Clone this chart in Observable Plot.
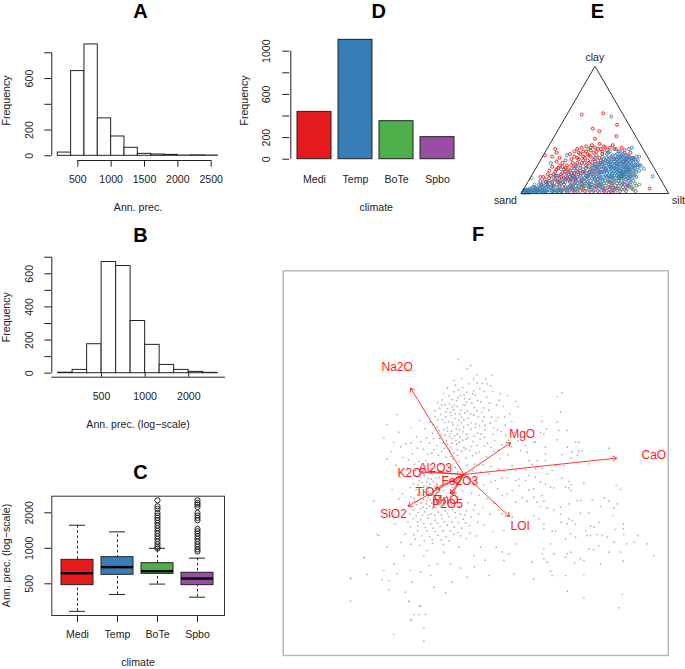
<!DOCTYPE html>
<html><head><meta charset="utf-8">
<style>html,body{margin:0;padding:0;background:#fff}#c{position:relative;width:685px;height:669px;overflow:hidden}</style>
<script src="https://cdn.jsdelivr.net/npm/d3@7"></script>
<script src="https://cdn.jsdelivr.net/npm/@observablehq/plot@0.6"></script>
</head><body><div id="c"></div>
<script>
const climates = ["Medi","Temp","BoTe","Spbo"];
const palette = ["#E41A1C","#377EB8","#4DAF4A","#984EA3"];

// A
const precEdges = [200,400,600,800,1000,1200,1400,1600,1800,2000,2200,2400,2600];
const precCounts = [25,658,865,291,150,62,15,10,7,2,4,2];
// B
const logEdges = [251,316,398,501,631,794,1000,1259,1585,1995,2512,3162];
const logCounts = [3,20,175,671,647,315,171,50,20,8,2];
const logTicks = [500,1000,2000];
// C
const boxLow = [292,406,497,385];
const boxQ1 = [487,596,607,487];
const boxMedian = [615,692,640,554];
const boxQ3 = [798,841,748,620];
const boxHigh = [1569,1378,1000,825];
const outBoTe = [2553,2272,2157,1996,1894,1810,1729,1642,1558,1480,1404,1333,1266,1202,1141,1083,1028,996];
const outSpbo = [2553,2423,2347,2242,1996,1894,1810,1729,1460,1395,1333,1266,1202,1141,1083,1028,977,939];
// D
const climateCounts = [438,1105,352,204];
// E : [position along base, clay %]
const triangle = [[0,0],[100,0],[50,100],[0,0]];
const medi = [[41,62],[55.5,63],[48.5,51],[53,49],[65,54],[64.5,45],[50,43],[23,35],[16,30],[21,29],[24,32],[87,4],
[24,25],[26,28],[28,24],[30,26],[33,31],[34,27],[36,33],[38,35],[39,32],[41,36],[42,33],[44,37],[45,31],[47,34],[48,38],[50,36],[51,33],[53,39],[54,35],[56,37],[58,34],[60,36],[62,38],[64,35],[66,33],[68,36],[70,34],[72,30],[74,32],[76,28],
[19,18],[21,21],[23,17],[25,20],[27,15],[29,19],[31,22],[33,18],[35,24],[37,21],[39,27],[41,24],[43,28],[45,26],[47,29],[49,27],[51,30],[53,28],[55,31],
[13,10],[15,13],[17,9],[19,12],[21,8],[23,11],[25,9],[27,13],[29,7],[31,12],[33,10],[35,14],[37,9],[39,15],[41,11],[43,17],[45,13],[47,19],[49,15],[51,21],[53,17],[55,23],[57,19],[59,25],[61,21],[63,27],[65,23],[67,29],[69,25],[71,27],
[38,4],[42,3],[50,6],[56,2],[60,9],[62,1],[44,22],[40,18],[36,16],[32,15],[30,20],[28,9],[34,6],[46,8],[52,11],[58,13],
[36,29],[38,28],[40,31],[42,29],[44,33],[46,30],[47,36],[49,32],[52,35],[55,33],[57,36],[59,32],[34,22],[36,20],[38,24],[40,22],[42,26],[44,20],[46,24],[48,22],[50,25],[52,23],[54,26],[30,17],[32,19],[34,16],[36,13],[38,17],[40,14],[42,17],[44,14],[46,16],[48,18],[24,14],[26,12],[28,16],[30,11],[22,15],[20,14],[18,15],[16,11],[14,7],[18,7],[22,6],[26,6],[30,5],[33,13],[37,12],[41,8],[35,11],[24,19],[26,22],[28,21]];
const temp = [[61,60.5],[89,13.5],[83,19.5],[76,18],[79,20.6],[80,29],[78,29],[75,36],[73,35],[31,30],[20,24],
[1,1],[2,1],[3,2],[4,1],[2,3],[5,2],[6,1],[4,3],[7,3],[8,1],[6,4],[9,2],[10,4],[3,0.5],[5,0.5],[8,5],[11,1],[12,3],[13,6],[14,2],[16,4],[15,8],[18,6],[17,2],[20,5],[22,3],[24,7],[12,7],[19,10],[22,12],[26,5],[28,11],[25,14],[30,9],[32,5],[34,12],[36,8],[31,16],[27,19],[35,18],[38,13],[37,22],[40,9],[42,14],[40,20],[43,24],[44,11],[46,17],[45,21],[47,25],[48,12],[49,18],[50,23],[50,28],[51,9],[52,15],[52,26],[53,20],[54,12],[54,24],[55,17],[55,29],[56,21],[56,8],[57,26],[57,14],[58,18],[58,31],[59,23],[59,11],[60,28],[60,16],[60,33],[61,20],[61,25],[62,13],[62,30],[62,8],[63,22],[63,17],[63,35],[64,27],[64,12],[65,19],[65,31],[65,24],[66,15],[66,28],[66,10],[67,21],[67,33],[67,26],[68,17],[68,13],[68,30],[69,23],[69,19],[69,28],[70,15],[70,32],[70,25],[71,21],[71,11],[71,30],[72,18],[72,26],[72,23],[73,14],[73,20],[73,29],[74,25],[74,17],[74,22],[75,12],[75,28],[75,20],[76,24],[76,15],[77,22],[77,27],[77,18],[78,25],[78,13],[79,23],[80,18],[81,22],[74,9],[72,7],[69,8],[76,10],[78,6],
[47,10],[53,7],[49,22],[51,16],[54,19],[56,27],[58,22],[57,10],[60,13],[61,17],[62,24],[63,11],[64,20],[65,14],[66,22],[67,16],[68,24],[69,14],[70,19],[71,24],[72,15],[44,16],[42,19],[39,11],[36,15],[33,9],[30,13],[26,9],[23,14],[21,6],[18,9],[15,5],[11,4],[9,5],[7,2],[5,3],
[1.5,0.5],[2.5,2],[3.5,1],[4.5,2],[5.5,1],[6.5,2],[7.5,1],[8.5,3],[9.5,1],[10.5,2],[12,1],[13,2],[15,1],[16,2],[18,1],[19,3],[21,2],[23,1],[25,3],[27,2],[29,4],[31,3],[33,6],[35,4],[37,6],[39,5],[41,7],[43,6],[45,9],[47,7],[49,9],[50,11],[52,9],[53,12],[55,10],[54,15],[56,13],[56,17],[57,20],[58,16],[59,14],[59,19],[60,21],[60,11],[61,13],[61,22],[62,16],[62,19],[62,27],[63,14],[63,20],[63,25],[64,16],[64,23],[64,30],[65,17],[65,21],[65,27],[66,13],[66,18],[66,25],[67,12],[67,18],[67,23],[67,29],[68,15],[68,20],[68,27],[69,12],[69,17],[69,21],[69,25],[69,31],[70,13],[70,17],[70,22],[70,28],[71,15],[71,19],[71,26],[72,12],[72,20],[72,28],[73,17],[73,23],[73,26],[74,13],[74,19],[74,28],[75,15],[75,23],[75,26],[76,21],[76,27],[77,14],[77,20],[78,17],[78,22],[79,26],[80,22],[45,14],[46,12],[47,15],[48,20],[48,15],[49,13],[50,17],[50,20],[51,19],[51,13],[52,18],[52,21],[53,14],[53,23],[54,17],[55,21],[55,25],[56,24],[57,18],[58,25],[58,28],[59,27],[60,24],[61,29],[38,8],[37,11],[35,7],[32,11],[29,12],[27,8],[24,10],[21,9],[17,7],[14,5],[41,10],[43,12],[44,8],[46,6],[48,5],[51,5],[54,5],[40,16],[42,11],[38,18],[36,11],[34,14]];
const bote = [[46,35],[7,12],[3,3],[9,7],[13,4],[18,3],[23,5],[28,3],[33,4],[39,6],[44,4],[48,7],[53,4],[57,6],[60,3],[62,10],[66,6],[68,11],[71,5],[73,12],[75,5],[66,18],[70,22],[61,14],[55,11],[72,20],[58,8],[64,6],[80,7],[76,3],[49,2],[36,2],[26,1],[16,1],[68,3],[61,6],[74,14],[67,13],[50,12],[43,8],
[11,3],[15,2],[20,4],[25,2],[30,5],[35,5],[37,3],[41,4],[46,3],[51,6],[55,3],[59,5],[62,4],[65,4],[67,8],[70,7],[72,4],[74,7],[77,8],[69,15],[71,17],[73,18],[63,9],[59,9],[54,8],[47,5],[42,6],[38,2],[31,2],[22,2]];
const spbo = [[77.5,2],[73,6],[13,13],[10,3],[17,5],[21,2],[26,3],[31,1],[35,3],[40,2],[45,1],[46,5],[50,3],[53,1],[55,5],[58,2],[60,5],[63,3],[65,8],[67,2],[69,5],[71,2],[73,10],[66,13],[68,16],[72,18],[64,1],[59,1],[48,1],[41,5],[34,1],[24,2],[62,5],[56,3],[70,9],[75,4],
[28,2],[33,3],[37,1],[43,2],[47,3],[52,2],[54,7],[57,4],[61,2],[64,4],[66,4],[68,7],[70,3],[72,6],[66,10],[61,8],[52,6]];
// F : biplot arrows and site scores
const loadNames = ["Na2O","MgO","CaO","LOI","SiO2","K2O","Al2O3","TiO2","Fe2O3","MnO","P2O5"];
const loadU = [-16,14,45.8,13.7,-16.7,-12.8,-10.5,-8.5,-3,-4,-3.5];
const loadV = [25.9,9.5,4.9,-12.6,-9.5,0.7,0.9,-4.3,-2.5,-5.8,-6];
const labelU = [-20,17.5,57,16.9,-21.1,-16.3,-8.5,-10.7,-1.2,-5.5,-4.9];
const labelV = [32.2,12.1,5.9,-15.6,-12,0.5,2,-5.3,-2,-7.6,-8.9];
const scores = [
[-34,-38],[-34,-31],[-30,-25],[-29,-30],[-27,-8],[-24,11],[-23,15],[-20,18],[-26,-18],[-21,-48],[-12,-50],[-12,-46],[-13,-39.5],[-16,-43.5],[-15,-42],[-11.5,-42],[-16.5,-38],[-13.5,-42],
[29.5,24.5],[28,23.4],[29,18.7],[28,15.7],[23.5,16],[31,13.2],[28.5,13.2],[34.5,9.7],[33.5,9.7],[28,10.4],[24,12.2],[23,12.5],[24.8,13.7],[21.5,9.7],[21,9.7],[18.5,8.7],[17,7.2],[19,6.7],[24.5,8.2],[24.5,6.2],[31,8.2],[32.5,6.7],[34.5,7],[35.5,7.2],[29.5,6],[32.2,5],[34,5.7],[43.5,7.9],[37.5,3.2],[30,2.7],[27.5,2.7],[24.5,4.2],[22,4.2],[19.5,4.2],[20.5,3],
[23.5,1.7],[21.5,1.7],[18.5,1.4],[15.5,1.2],[14.5,2.7],[26.5,1.2],[25,.2],[29.5,-1.1],[31.5,-2.1],[32.2,-3],[30.5,-3.8],[31.5,-4],[32.2,-4.8],[26,-3.8],[27,-4],[24.5,-2.8],[23,-2.3],[21.5,-.8],[19.5,-.3],[18.5,-1.8],[16.5,-1.3],[15.5,-1.8],[13,-1],[11.5,-1.1],[16.5,-3.3],[14.5,-4.8],[21,-4.3],[19.5,-4.6],[23.5,-6.3],[24,-8],[17.5,-7],[19,-8],[21,-6.8],[22,-8.3],[15.5,-8.3],[13,-5.8],[11.5,-6.3],[36,-2.6],[45.7,-3.3],[47,-4.5],[35,-7.8],[34,-7.8],[38.5,-7.6],[42.2,-7],[43.5,-8],[46,-8.8],[41,-9.6],[45,-10],[35,-11.6],[37.5,-11.5],[44.8,-12.3],[25,-10],[27,-10.6],[29,-9.8],[29,-11.8],[23,-9.6],[21,-12.3],[22.5,-13.3],[31.5,-8.8],[31.5,-13.3],[32.5,-13.8],[31,-14.8],[33.5,-15],[38,-15.5],[40.5,-14.3],[39,-15.8],[29.2,-14.3],[24,-16.3],[26.5,-17],[27.5,-17],[24,-14.8],[14.5,-12.8],[11.5,-11.8],[12,-16.8],[15.5,-20.8],[32,-17.8],[30.5,-19.3],[33.5,-18.8],[36.5,-16.8],[37,-18.3],[40,-18],[41.5,-18.3],[38,-18.3],[45.5,-16.5],[47.8,-14.8],[47.8,-16.3],[48,-18],[52.2,-18.3],[51.2,-20.3],[48.8,-20.8],[55,-20.8],[57,-24.3],[45,-20.3],[43,-18.8],[40.5,-21.3],[37.5,-22.3],[39,-22.5],[43.5,-23.3],[47,-23.3],[47.8,-26],[24,-22.3],[23.5,-23.8],[26,-20.8],[27,-23.8],[30.5,-24.8],[32,-23.3],[31,-23.8],[35,-25.3],[36,-25.8],[33.2,-26.5],[41,-26.8],[24,-25.3],[25,-26.3],[20.5,-26.3],[13.5,-23.8],[11.5,-23.3],[12,-25.8],[26,-29],[26.5,-30.3],[15,-29.8],[21,-31.3],[36,-30],[30.5,-30.3],[47.5,-36],[46.5,-40],[36,-37],[31,-35],
[-21.5,-4.5],[-19.5,-7.3],[-25.5,-18.3],[-23,-21.8],[-29.8,-24.8],[-34,-31.3],[-24.5,-31.5],[-22.5,-31.8],[-22.5,-34.6],[-16.5,-38.1],[-13.2,-39.5],[-15.7,-43.8],[-20,-29.8],[-24,-28.8],[-21,-26.8],[-18,-24.3],[-16,-28.8],[-15.5,-32.3],[-17.5,-35.3],[-13,-29.3],[-10,-30.3],[-9,-33.8],[-5.5,-35.5],[-3.5,-32.3],[1,-30.8],[-1,-28.1],[-4,-26.8],[-8,-26.8],[-10.5,-27.3],[-12,-24.3],[-11,-22.8],[-6,-23.3],[-1.5,-21.8],[3,-24.3],[5,-21.8],[7.5,-30.3],
[-1.7,34.5],[1,31.7],[2,32.7],[4,29.9],[6.5,28.7],[8.5,29.7],[7,27.2],[4.8,25.7],[1.5,27.2],[.8,24.7],[-1,23.7],[-3,24.8],[-5,25.9],[-6.5,22.4],[-4.3,21.2],[-2.2,22.1],[-.4,20.9],[1.7,22.6],[3.4,23.8],[5.1,21.7],[6.8,23.2],[8.6,24.9],[9.8,20.8],[7.5,19.3],[5.4,18.6],[3.2,20.1],[1.1,19],[-1.2,18.1],[-3.1,19.4],[-5.3,18.8],[-7.2,19.9],[-8.6,17.4],[-6.4,16.5],[-4.6,15.9],[-2.7,16.8],[-.7,15.6],[1.3,16.9],[3.6,15.2],[5.7,16.1],[7.9,15.4],[10.3,17.1],[12.4,14.8],[13.7,18.2],[15.6,21.9],[13.1,23.7],[10.9,24.3],[16.2,20.4],[11.2,12.9],[8.8,12.1],[6.3,13.3],[4.2,12.4],[2.1,13.6],[-.2,12.8],[-2.3,13.7],[-4.1,12.2],[-6,13.5],[-8.1,14.2],[-10.2,15.7],[-9.4,12.4],[-7.3,10.9],[-5.2,10.1],[-3.4,10.8],[-1.4,9.7],[.6,10.6],[2.7,9.9],[4.9,10.7],[7.1,9.4],[9.2,10.2],[11.5,8.9],[13.4,10.3],[-3.9,8.3],[-2,7.5],[0,8.1],[1.8,7.2],[-5.9,7.8],[-8,8.7],[-10.3,9.4],[-12.1,7.6],[-14.2,11.3],[-11.7,13.8],[-13.3,16.2],[-15.9,14.1],[-17.4,9.2],[-19.6,12.7],[-21.8,6.9],[-18.2,5.1],[-15.4,6.2],[-20.3,2.8],[-23.1,4.6],[-13.5,3.9],[-3.5,20.3],[-2,20.4],[-.6,17.2],[-5.7,20.9],[-7.8,21.6],[-6.1,24.3],[-3.8,17.6],[-1.9,14.7],[-3.2,14.9],[-5.1,14],[-4.3,11.3],[-2.8,11.6],[-1.1,11.3],[-.1,14.3],[1.2,14.9],[2.9,17.8],[4.3,17.3],[.4,20.8],[2.4,21.4],[-1.6,25.4],[.2,22.7],[4.1,22.2],[-4.4,23.6],[-2.5,26.8],[2.9,25.1],[-6.9,18],[-5.8,15.6],[-3.7,13],[-6.8,12],[-2.1,9.1],[-.7,7],[-4.8,9],
[-9.6,6.4],[-7.6,5.8],[-5.3,5.2],[-3.2,4.7],[-1.4,3.9],[.6,4.9],[2.6,5.6],[4.7,6.8],[6.8,5.3],[8.9,6.9],[10.9,4.8],[13.2,5.9],[-11.3,4.2],[-9.1,3.6],[-7,3.1],[-4.8,2.7],[-2.6,2.2],[.9,2.8],[3.2,3.1],[5.8,2.9],[8.1,2.4],[10.4,1.6],[-14.6,1.2],[-12.5,1.7],[-10.7,-1.2],[-9.2,-2.1],[-7.4,-.9],[-5.9,-1.8],[-13.4,-1.9],[-15.1,-2.8],[-17.3,-.6],[-12,-3.4],[-10.4,-4.1],[-8.7,-3.6],[-6.8,-3.2],[-14.3,-4.6],[-11.8,-5.3],[-9.9,-6],[-7.9,-5.4],[-15.8,-6.7],[-13,-7.2],[-11.1,-7.9],[-9,-7.5],[-7,-7.1],[-5.1,-6.6],[-16.7,-9.3],[-14.1,-9.1],[-12.2,-9.8],[-10.3,-9.4],[-8.4,-9.9],[-6.3,-9.2],[-4.2,-8.4],[-13.6,-11.4],[-11.7,-11.2],[-9.7,-11.8],[-7.7,-11.3],[-5.6,-10.9],[-3.4,-10.6],[-1.2,-9.7],[.8,-10.9],[-15.2,-13.2],[-12.9,-13.6],[-10.8,-13.1],[-8.6,-13.7],[-6.5,-13.2],[-4.5,-12.6],[-2.4,-12.9],[-.2,-13.4],[2.1,-12.7],[4.4,-11.8],[-16.1,-15.7],[-13.7,-15.4],[-11.5,-15.9],[-9.2,-16.1],[-7.1,-15.6],[-5,-15.2],[-2.9,-15.8],[-.6,-16.1],[1.7,-15.3],[-17.6,-17.9],[-15,-18.1],[-12.6,-18.4],[-10.2,-18.7],[-7.8,-18.2],[-5.4,-18.6],[-3,-17.9],[-18.9,-20.4],[-15.9,-20.9],[-13.3,-21.3],[-9.4,-20.7],[-6.2,-21.1],[.7,-19.2],[3.8,-18.4],[6.1,-15.1],[7.9,-11.9],[8.8,-17.1],[9.7,-21.8],[6.4,-25.7],[3.2,-27.7],
[-1.1,-1.8],[1.3,-2.4],[3.7,-1.6],[5.9,-3.1],[8.2,-2.2],[10.1,-4.3],[-.4,-4.9],[2.3,-5.6],[4.6,-6.3],[7,-7.2],[9.1,-8.7],[1.2,-8.4],[3.3,-9.2],[5.6,-9.9],[10.4,-10.6],[-16.2,-3.9],[-18.4,-5.8],[-19.8,-10.6],[-18.1,-12.9],[-20.7,-14.8],[-22.3,-12.2],[-11.9,-0.4],[-9.3,0.6],[-7.2,1.1],[-12.8,.3],[-8.3,-1.1],[-6.3,-.3],[-10.2,-2.9],[-11.1,-3.7],[-12.9,-5.4],[-8.9,-5],[-10.6,-6.9],[-12.1,-7.4],[-8,-7.9],[-14.8,-8.2],[-9.6,-8.6],
[-3.1,6.4],[-4.2,7.1],[-2.4,10.2],[-3.6,9.4],[-5.6,11.8],[-4.9,13.1],[-3.4,15.6],[-2,12.1],[-1.3,13.4],[-.4,10.3],[.9,12.1],[-6.2,9.5],[-7.4,13.2],[-5.5,17.2],[-4,18.6],[-2.6,18.2],[-1.5,16.2],[0,16.4],[.3,18.4],[2,18.2],[2.2,15.5],[3.4,14.1],[4.7,14.7],[5.1,12.1],[3.1,11.5],[1.2,11.1],[6.2,11.2],[6.4,14.8],[6.1,17.3],[8.3,17.2],[8.9,14.1],[9.6,16.2],[10.1,13.3],[-.8,19.4],[-2.9,20.8],[-4.9,19.8],[-6.6,20.9],[-7.9,16.4],[-8.7,19.1],[-9.2,14.9],[-3.5,22.5],[-1.8,23],[.1,24],[2.6,24.2],[.9,21.7],[3.9,19.1],[5.9,20],[7.7,21.4],[6.1,24.9],[4,27.4],[-.3,26.1],[-2.9,28.2],[-.6,28.8],[2.9,28.7],[5.4,27.3],[8.1,26.6],[10.6,22.3],[11.9,20.4],[12.2,17.2],[14.4,15.9],[15.1,12.6],[14.3,8.4],[16.3,10.1],[12.6,11.8],[10.2,7.4],[8.1,8.1],[6.1,8.6],[4,8.7],[2.3,8.4],[.5,7.6],[3.7,6.4],[-1.9,5.8],[-3.9,5.4],[-6.7,6.9],[-8.9,7.4],[-10.9,6.1],[-9.1,10.8],[-11.2,10.9],[-12.9,9.8],[-13.9,7.9],[-15.8,9.4],[-16.6,4.4],[-18.9,8.3],[-21,9.6],[-14.8,3.1],[-16.9,1.9],[-19.1,-.9],
[-13.8,-3.1],[-12.6,-2.4],[-11.1,-2.2],[-9.8,-1.4],[-8.2,-2.8],[-7.2,-4.2],[-6.1,-4.8],[-9.3,-4.6],[-10.9,-5.2],[-12.6,-6.1],[-13.9,-6.2],[-14.9,-7.2],[-13.8,-8.1],[-12.8,-8.6],[-11.2,-8.8],[-10.1,-7.6],[-8.8,-6.6],[-7.6,-6.4],[-6.5,-7.8],[-5.8,-8.4],[-7.4,-9],[-9.3,-10.1],[-11.2,-10.2],[-13,-10.3],[-15.1,-10.6],[-16.2,-11.8],[-14.3,-12.4],[-12.4,-12.2],[-10.5,-12],[-8.6,-12.2],[-6.8,-12.1],[-4.9,-11.7],[-3.6,-9.2],[-2.6,-11.4],[-1.1,-11.9],[.3,-12.1],[-13.9,-14.2],[-12,-14.7],[-9.9,-14.8],[-7.9,-14.6],[-5.9,-14.2],[-3.6,-14.2],[-1.6,-14.4],[.5,-14.6],[-11,-17],[-8.6,-17.1],[-6.3,-16.9],[-4,-16.9],[-1.8,-17.4],[-13.9,-16.9],[-16.8,-14.2],[-9.5,-19.6],[-6.8,-19.6],[-4.5,-19.9],[-11.9,-19.9],[-14.5,-19.4],[-.9,-18.4],[1.9,-17.6],[4.1,-14.3],[2.9,-10.6],[-.7,-7.4],[-2.6,-6.1],[-3.4,-3.8],[-4.9,-2.9],[-5.8,-.7],[-3.9,.2],[-1.8,.8],[.4,.6],[2.7,1.1],[5.1,.7],[7.6,.2],[9.4,-1.8],[12.1,.9],[-9.9,1.9],[-11.6,2.7]
];

// ---------- helpers
const ink = "#222", font = "Liberation Sans, Arial, sans-serif";
const container = document.getElementById("c");
function panel(b, o) {
  const {marks, ...rest} = o;
  const svg = Plot.plot({
    width: b.w, height: b.h, marginLeft: b.ml, marginRight: b.mr, marginTop: b.mt, marginBottom: b.mb,
    style: {background: "transparent", fontFamily: font, fontSize: "10.6px", color: ink},
    marks, ...rest
  });
  svg.style.position = "absolute";
  svg.style.left = b.left + "px";
  svg.style.top = b.top + "px";
  svg.style.maxWidth = "none";
  container.appendChild(svg);
}
// text placed in panel pixels
const txt = (b, s, x, y, o = {}) => Plot.text([s], {
  text: d => d, frameAnchor: "top-left", dx: x - b.ml, dy: y - b.mt,
  textAnchor: "middle", lineAnchor: "middle", fill: ink, ...o
});
const heading = (b, s, x, y) => txt(b, s, x, y, {fontSize: 20, fontWeight: "bold", fill: "#000"});
const yAxisR = (ticks, shown, pad = 12.3) => Plot.axisY({
  ticks, anchor: "left", tickSize: 7, tickPadding: pad, tickRotate: -90, textAnchor: "middle",
  tickFormat: d => shown.includes(d) ? String(d) : "", label: null, color: ink
});

// ---------- A
const bA = {left: 0, top: 0, w: 235, h: 220, ml: 51.3, mr: 10, mt: 20, mb: 60};
const tableA = precCounts.map((v, i) => ({x1: precEdges[i], x2: precEdges[i + 1], y: v}));
panel(bA, {
  x: {domain: [500, 2500], range: [77.3, 210.7]},
  y: {domain: [0, 800], range: [155.3, 52.3]},
  marks: [
    Plot.rectY(tableA, {x1: "x1", x2: "x2", y: "y", fill: "white", stroke: ink, strokeWidth: 1}),
    Plot.ruleY([0], {x1: 500, x2: 2500, dy: 4.7, stroke: ink}),
    Plot.ruleX([500], {y1: 0, y2: 800, dx: -26, stroke: ink}),
    Plot.axisX({ticks: [500, 1000, 1500, 2000, 2500], anchor: "bottom", tickSize: 6.7, tickPadding: 8, tickFormat: d => String(d), label: null, color: ink}),
    yAxisR([0, 200, 400, 600, 800], [0, 200, 600]),
    txt(bA, "Frequency", 6.5, 100, {rotate: -90}),
    txt(bA, "Ann. prec.", 137.5, 206.7),
    heading(bA, "A", 140, 11.5)
  ]
});

// ---------- B
const bB = {left: 0, top: 220, w: 235, h: 222, ml: 51.3, mr: 11, mt: 20, mb: 65.3};
const tableB = logCounts.map((v, i) => ({x1: logEdges[i], x2: logEdges[i + 1], y: v}));
panel(bB, {
  x: {type: "log", domain: [500, 2000], range: [101, 188.3]},
  y: {domain: [0, 600], range: [152.7, 53.3]},
  marks: [
    Plot.rectY(tableB, {x1: "x1", x2: "x2", y: "y", fill: "white", stroke: ink, strokeWidth: 1}),
    Plot.ruleX(logTicks, {y1: 0, y2: -24, stroke: ink}),
    Plot.frame({anchor: "bottom", stroke: ink}),
    Plot.ruleX([500], {y1: 0, y2: 700, dx: -49.7, stroke: ink}),
    Plot.axisX({ticks: logTicks, anchor: "bottom", tickSize: 0, tickPadding: 15, tickFormat: d => String(d), label: null, color: ink}),
    yAxisR([0, 100, 200, 300, 400, 500, 600, 700], [0, 200, 400, 600]),
    txt(bB, "Frequency", 6.5, 96.7, {rotate: -90}),
    txt(bB, "Ann. prec. (log\u2212scale)", 137.5, 204),
    heading(bB, "B", 140, 15)
  ]
});

// ---------- C
const bC = {left: 0, top: 442, w: 235, h: 227, ml: 51.3, mr: 11, mt: 53.7, mb: 54};
const boxes = climates.map((c, i) => ({c, low: boxLow[i], q1: boxQ1[i], med: boxMedian[i], q3: boxQ3[i], high: boxHigh[i]}));
const outliers = [...outBoTe.map(v => ({c: "BoTe", v})), ...outSpbo.map(v => ({c: "Spbo", v}))];
panel(bC, {
  x: {type: "band", domain: climates, range: [57.3, 217.3], paddingInner: 0.2, paddingOuter: 0.1},
  y: {type: "log", domain: [500, 2000], range: [141.3, 70.3]},
  color: {domain: climates, range: palette},
  marks: [
    Plot.ruleX(boxes, {x: "c", y1: "low", y2: "high", stroke: ink, strokeDasharray: "2.6,2.6"}),
    Plot.tickY(boxes, {x: "c", y: "low", stroke: ink, insetLeft: 8, insetRight: 8}),
    Plot.tickY(boxes, {x: "c", y: "high", stroke: ink, insetLeft: 8, insetRight: 8}),
    Plot.barY(boxes, {x: "c", y1: "q1", y2: "q3", fill: "c", stroke: ink}),
    Plot.tickY(boxes, {x: "c", y: "med", stroke: "#000", strokeWidth: 2.4}),
    Plot.dot(outliers, {x: "c", y: "v", r: 2.6, stroke: ink, strokeWidth: 1}),
    Plot.frame({stroke: "#333"}),
    Plot.axisX({anchor: "bottom", tickSize: 7, tickPadding: 8, label: null, color: ink}),
    yAxisR([500, 1000, 2000], [500, 1000, 2000]),
    txt(bC, "Ann. prec. (log\u2212scale)", 6.5, 113, {rotate: -90}),
    txt(bC, "climate", 137.5, 219.7),
    heading(bC, "C", 140, 30.3)
  ]
});

// ---------- D
const bD = {left: 235, top: 0, w: 250, h: 220, ml: 54.3, mr: 10, mt: 10, mb: 61.3};
const tableD = climates.map((c, i) => ({c, n: climateCounts[i]}));
panel(bD, {
  x: {type: "band", domain: climates, range: [57.35, 224.35], paddingInner: 0.16, paddingOuter: 0.08},
  y: {domain: [0, 1000], range: [158.7, 50.7]},
  color: {domain: climates, range: palette},
  marks: [
    Plot.barY(tableD, {x: "c", y: "n", fill: "c", stroke: ink, strokeWidth: 1}),
    Plot.ruleX([climates[0]], {y1: 0, y2: 1000, dx: -23.7, stroke: ink}),
    Plot.axisX({anchor: "bottom", tickSize: 0, tickPadding: 16, label: null, color: ink}),
    yAxisR([0, 200, 400, 600, 800, 1000], [0, 200, 600, 1000]),
    txt(bD, "Frequency", 9.3, 100, {rotate: -90}),
    txt(bD, "climate", 140.7, 206.7),
    heading(bD, "D", 143.3, 11)
  ]
});

// ---------- E
const bE = {left: 485, top: 0, w: 200, h: 215, ml: 0, mr: 0, mt: 0, mb: 0};
const rings = (data, i) => Plot.dot(data, {x: d => d[0], y: d => d[1], r: 1.5, stroke: palette[i], strokeWidth: 1, strokeOpacity: 0.9});
panel(bE, {
  x: {domain: [0, 100], range: [35.7, 183.3], axis: null},
  y: {domain: [0, 100], range: [193, 65.7], axis: null},
  marks: [
    rings(medi, 0), rings(bote, 2), rings(spbo, 3), rings(temp, 1),
    Plot.line(triangle, {x: d => d[0], y: d => d[1], stroke: "#333", strokeWidth: 1}),
    txt(bE, "clay", 109.3, 57.3),
    txt(bE, "sand", 20, 200.3),
    txt(bE, "silt", 193, 200.3),
    heading(bE, "E", 112, 11)
  ]
});

// ---------- F
const bF = {left: 270, top: 220, w: 415, h: 449, ml: 12.7, mr: 17.3, mt: 50.3, mb: 14};
const loads = loadNames.map((name, i) => ({name, u: loadU[i], v: loadV[i], lu: labelU[i], lv: labelV[i]}));
panel(bF, {
  x: {domain: [-54.2, 61.3], range: [12.7, 397.7], axis: null},
  y: {domain: [-54.3, 61.1], range: [435, 50.3], axis: null},
  marks: [
    Plot.frame({stroke: "#b4b4b4", strokeWidth: 1.4}),
    Plot.dot(scores, {x: d => d[0], y: d => d[1], r: 0.85, fill: "#b0b0b0", stroke: null}),
    Plot.arrow(loads, {x1: () => 0, y1: () => 0, x2: "u", y2: "v", stroke: "#ff2020", strokeWidth: 0.9, headLength: 7, headAngle: 70}),
    Plot.text(loads, {x: "lu", y: "lv", text: "name", fill: "#ff1a1a", fontSize: 12}),
    heading(bF, "F", 207.7, 14.5)
  ]
});
</script></body></html>
